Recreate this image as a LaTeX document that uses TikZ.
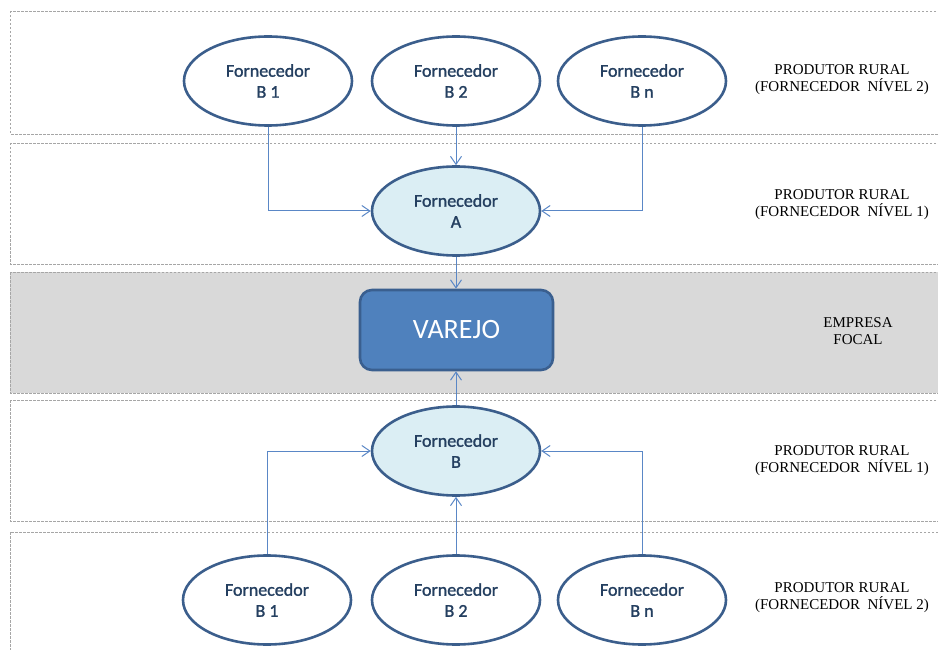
\documentclass[tikz,border=0pt]{standalone}
\usepackage{fontspec}
\setmainfont{Liberation Serif}
\newfontfamily\calfont{Carlito}
\newfontfamily\calmed[FakeBold=1.4]{Carlito}
\usetikzlibrary{arrows.meta,shapes.geometric}
\definecolor{bandgray}{HTML}{A6A6A6}
\definecolor{focalfill}{HTML}{D9D9D9}
\definecolor{edgeblue}{HTML}{3B5E8C}
\definecolor{textnavy}{HTML}{243F60}
\definecolor{lightfill}{HTML}{DBEEF4}
\definecolor{arrowblue}{HTML}{5A87C6}
\definecolor{boxblue}{HTML}{4F81BD}
\definecolor{boxedge}{HTML}{3A5F8F}
\begin{document}
\begin{tikzpicture}[x=1pt,y=-1pt,
  band/.style={draw=bandgray,dash pattern=on 2.5pt off 1.5pt,line width=0.6pt},
  supplier/.style={ellipse,draw=edgeblue,line width=2.6pt,fill=white,
    minimum width=168pt,minimum height=89pt,inner sep=0pt,align=center,
    font=\calmed\fontsize{18}{21}\selectfont,text=textnavy},
  suppliermid/.style={supplier,fill=lightfill},
  focalbox/.style={draw=boxedge,fill=boxblue,line width=2.6pt,rounded corners=12pt,
    minimum width=193pt,minimum height=80pt,inner sep=0pt,
    font=\calfont\fontsize{28}{32}\selectfont,text=white},
  layerlabel/.style={align=center,font=\fontsize{15}{17}\selectfont,text=black,inner sep=0pt},
  flow/.style={draw=arrowblue,line width=1pt,-{Straight Barb[length=8pt,width=11pt]}}]
\useasboundingbox (0,0) rectangle (938,650);
\clip (0,0) rectangle (938,650);
% bands
\draw[band] (10,11) rectangle (948,134);
\draw[band] (10,143) rectangle (948,264);
\draw[band,fill=focalfill] (10,272) rectangle (948,393);
\draw[band] (10,400) rectangle (948,521);
\draw[band] (10,532) rectangle (948,662);
% top tier
\node[supplier] (t1) at (268,81) {Fornecedor\\B 1};
\node[supplier] (t2) at (456,81) {Fornecedor\\B 2};
\node[supplier] (tn) at (642,81) {Fornecedor\\B n};
\node[suppliermid] (a) at (456,211) {Fornecedor\\A};
\node[focalbox] (v) at (456.5,330) {VAREJO};
\node[suppliermid] (b) at (456,451) {Fornecedor\\B};
\node[supplier] (u1) at (267,600) {Fornecedor\\B 1};
\node[supplier] (u2) at (456,600) {Fornecedor\\B 2};
\node[supplier] (un) at (642,600) {Fornecedor\\B n};
% labels
\node[layerlabel] (l1) at (842,80) {PRODUTOR RURAL\\(FORNECEDOR~ NÍVEL 2)};
\node[layerlabel] (l2) at (842,205) {PRODUTOR RURAL\\(FORNECEDOR~ NÍVEL 1)};
\node[layerlabel] (l3) at (858,331) {EMPRESA\\FOCAL};
\node[layerlabel] (l4) at (842,461) {PRODUTOR RURAL\\(FORNECEDOR~ NÍVEL 1)};
\node[layerlabel] (l5) at (842,598) {PRODUTOR RURAL\\(FORNECEDOR~ NÍVEL 2)};
% connectors
\draw[flow] (t1.south) |- (a.west);
\draw[flow] (t2.south) -- (a.north);
\draw[flow] (tn.south) |- (a.east);
\draw[flow] (a.south) -- (v.north -| a.south);
\draw[flow] (b.north) -- (v.south -| b.north);
\draw[flow] (u1.north) |- (b.west);
\draw[flow] (u2.north) -- (b.south);
\draw[flow] (un.north) |- (b.east);
\end{tikzpicture}
\end{document}
